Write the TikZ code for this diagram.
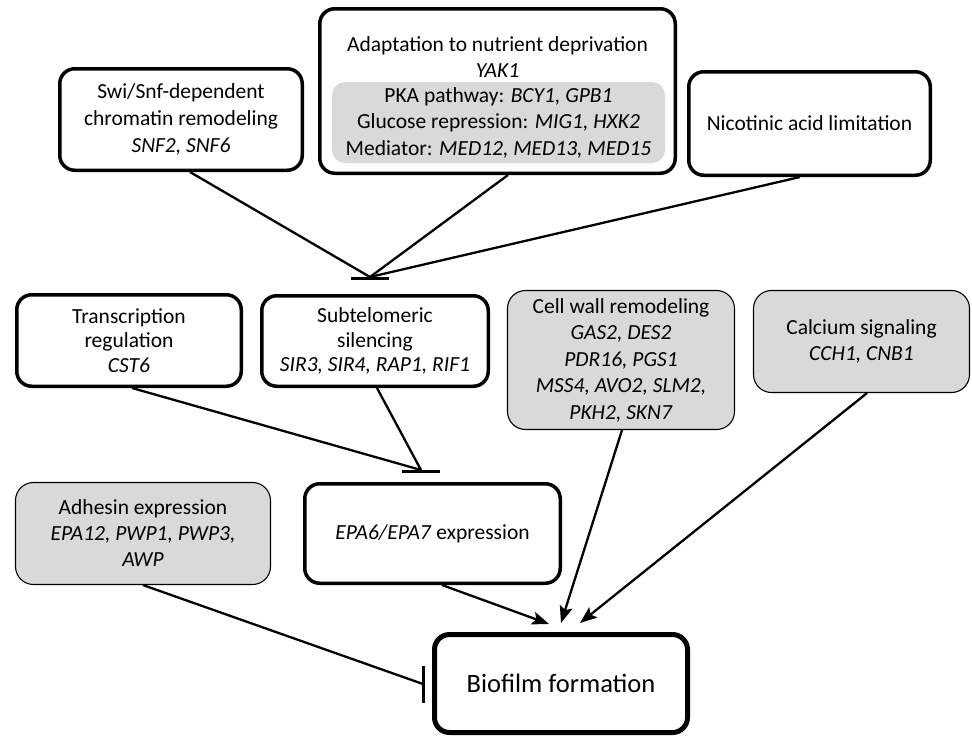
\documentclass[tikz,border=0pt]{standalone}
\usepackage{fontspec}
\setmainfont{Carlito}
\usetikzlibrary{arrows.meta}
\definecolor{boxgray}{HTML}{D9D9D9}
\begin{document}
\begin{tikzpicture}[x=1pt,y=-1pt,
  tbox/.style={draw, line width=3.5pt, rounded corners=15pt, align=center, inner sep=0pt,
    font=\fontsize{21.5}{25.5}\selectfont},
  gbox/.style={draw, line width=1.1pt, fill=boxgray, rounded corners=18pt, align=center, inner sep=0pt,
    font=\fontsize{21.5}{26.5}\selectfont},
  txt/.style={align=center, inner sep=0pt, font=\fontsize{21.5}{26.5}\selectfont},
  conn/.style={line width=2.3pt},
  tbar/.style={line width=3pt},
  arr/.style={line width=2.3pt, -{Stealth[length=17pt,width=13pt,inset=3.5pt]}}
]
\useasboundingbox (0,0) rectangle (972,737);

% top row
\node[tbox, minimum width=242.5pt, minimum height=101.5pt, font=\fontsize{21.5}{27}\selectfont] (swi) at (181,119.5)
  {Swi/Snf-dependent\\chromatin remodeling\\\textit{SNF2, SNF6}};
\node[tbox, minimum width=355.5pt, minimum height=164.5pt] (adapt) at (497.5,91) {};
\node[txt] (adapttxt) at (497.5,57) {Adaptation to nutrient deprivation\\\textit{YAK1}};
\node[fill=boxgray, rounded corners=13pt, minimum width=333pt, minimum height=81pt, txt] (inner) at (498.5,122.5)
  {PKA pathway: \textit{BCY1, GPB1}\\Glucose repression: \textit{MIG1, HXK2}\\Mediator: \textit{MED12, MED13, MED15}};
\node[tbox, minimum width=241.5pt, minimum height=103.5pt] (nic) at (809.5,123.5) {Nicotinic acid limitation};

% middle row
\node[tbox, minimum width=224.5pt, minimum height=91.5pt, font=\fontsize{21.5}{24.5}\selectfont] (trans) at (129,340.5)
  {Transcription\\regulation\\\textit{CST6}};
\node[tbox, minimum width=226.5pt, minimum height=90.5pt, font=\fontsize{21.5}{24.5}\selectfont] (sub) at (375,341)
  {Subtelomeric\\silencing\\\textit{SIR3, SIR4, RAP1, RIF1}};
\node[gbox, minimum width=227pt, minimum height=139pt] (cell) at (621,360)
  {Cell wall remodeling\\\textit{GAS2, DES2}\\\textit{PDR16, PGS1}\\\textit{MSS4, AVO2, SLM2,}\\\textit{PKH2, SKN7}};
\node[gbox, minimum width=216pt, minimum height=102pt] (calc) at (861.5,341.5)
  {Calcium signaling\\\textit{CCH1, CNB1}};

% lower row
\node[gbox, minimum width=255pt, minimum height=102pt, font=\fontsize{21.5}{26}\selectfont] (adh) at (143,533.5)
  {Adhesin expression\\\textit{EPA12, PWP1, PWP3,}\\\textit{AWP}};
\node[tbox, minimum width=255.5pt, minimum height=99.5pt] (epa) at (432.5,533.5)
  {\textit{EPA6/EPA7} expression};
\node[tbox, line width=5pt, minimum width=253pt, minimum height=98pt, font=\fontsize{26.5}{30}\selectfont] (bio) at (561,683.5)
  {Biofilm formation};

% junctions
\coordinate (j1) at (370,277);
\coordinate (j2) at (421,470);
\coordinate (j3) at (423,684);
\coordinate (a1) at (549,624);
\coordinate (a2) at (561,623);
\coordinate (a3) at (580,623);

\draw[conn] ([xshift=9pt]swi.south) -- (j1);
\draw[conn] ([xshift=10.5pt]adapt.south) -- (j1);
\draw[conn] ([xshift=-9.5pt]nic.south) -- (j1);
\draw[tbar] ([xshift=-19pt,yshift=-1pt]j1) -- ([xshift=19pt,yshift=-1pt]j1);

\draw[conn] ([xshift=3pt]trans.south) -- (j2);
\draw[conn] ([xshift=2pt]sub.south) -- (j2);
\draw[tbar] ([xshift=-19pt,yshift=-1pt]j2) -- ([xshift=19pt,yshift=-1pt]j2);

\draw[conn] (adh.south) -- (j3);
\draw[tbar] ([yshift=18pt]j3) -- ([yshift=-19pt]j3);

\draw[arr] ([xshift=9.5pt]epa.south) -- (a1);
\draw[arr] ([xshift=1pt]cell.south) -- (a2);
\draw[arr] ([xshift=5.5pt]calc.south) -- (a3);
\end{tikzpicture}
\end{document}
